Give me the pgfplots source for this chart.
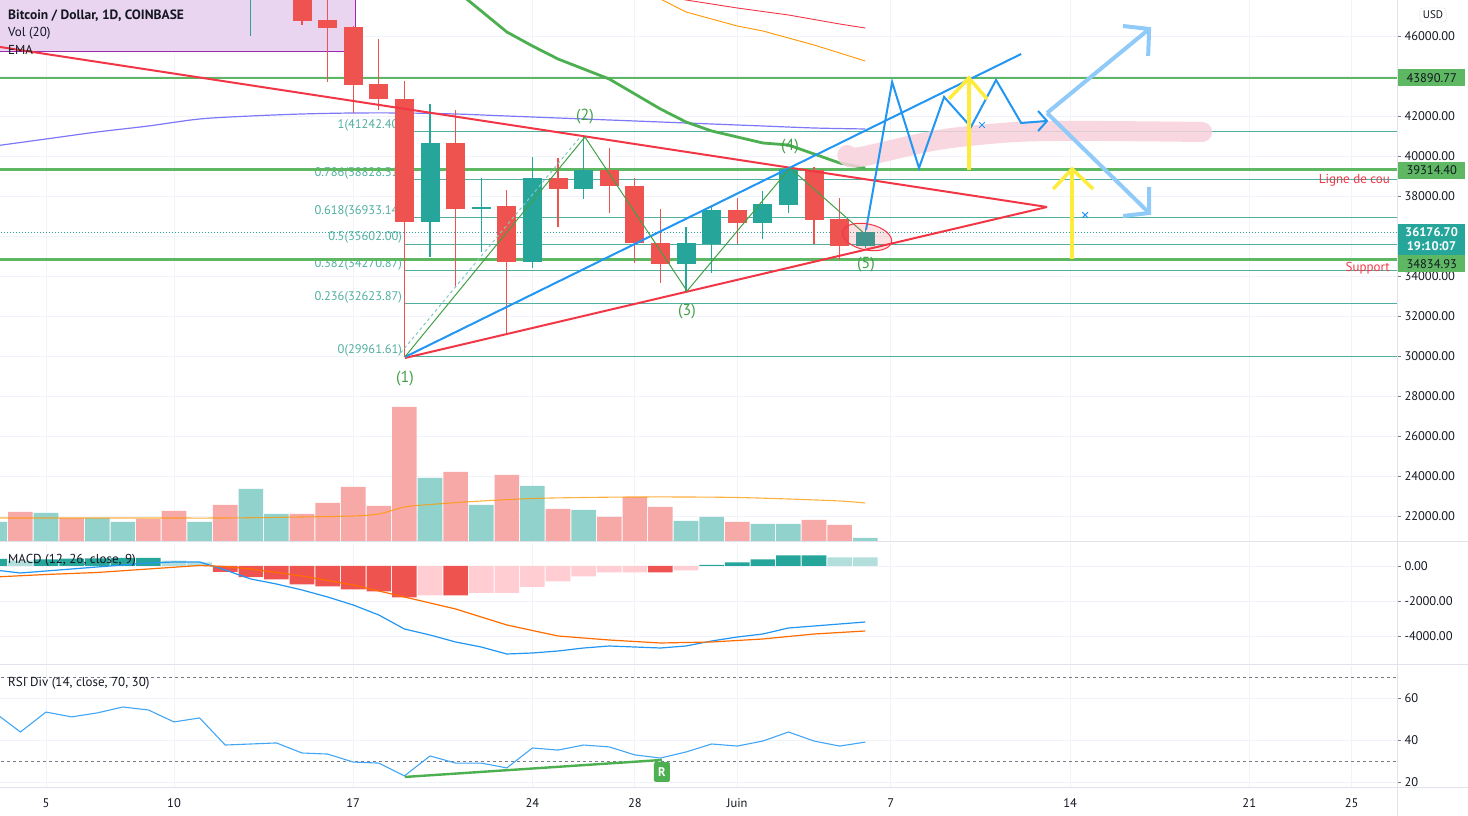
\documentclass[border=0pt]{standalone}
\usepackage{pgfplots}
\pgfplotsset{compat=1.18}
\usepackage{pgfplotstable}
\usepackage{fontspec}
\setmainfont{PT Sans}

\definecolor{cred}{RGB}{239,83,80}
\definecolor{cgreen}{RGB}{38,166,154}
\definecolor{volred}{RGB}{247,169,167}
\definecolor{volgreen}{RGB}{146,210,204}
\definecolor{hlgreen}{RGB}{94,183,98}
\definecolor{fibc}{RGB}{80,175,160}
\definecolor{purplec}{RGB}{125,120,250}
\definecolor{emag}{RGB}{76,175,80}
\definecolor{maorange}{RGB}{255,152,0}
\definecolor{sigorange}{RGB}{255,109,0}
\definecolor{tvblue}{RGB}{33,150,243}
\definecolor{lightblue}{RGB}{144,202,249}
\definecolor{tvyellow}{RGB}{255,235,59}
\definecolor{hlpink}{RGB}{248,208,220}
\definecolor{gridc}{RGB}{240,243,250}
\definecolor{sepc}{RGB}{224,227,235}
\definecolor{textc}{RGB}{19,23,34}
\definecolor{wavec}{RGB}{67,160,71}
\definecolor{boxpurple}{RGB}{234,213,240}
\definecolor{bpurple}{RGB}{156,39,176}
\definecolor{trred}{RGB}{242,54,69}
\definecolor{macdpink}{RGB}{255,205,210}
\definecolor{macdlt}{RGB}{178,223,219}
\definecolor{dashc}{RGB}{120,123,134}

\newcommand{\tvf}{\fontsize{12.5}{15}\selectfont}

\pgfplotstableread{
d o h l c
15 49900 50700 46550 46750
16 46800 49800 43700 46400
17 46450 46500 42150 43550
18 43600 45850 42300 42850
19 42850 43750 29960 36700
21 40650 42300 33450 37350
23 37500 38300 31150 34700
25 38900 39900 36450 38350
27 39300 40400 37150 38500
28 38500 38900 34650 35650
29 35650 37350 33650 34600
32 37300 37900 35600 36650
35 39300 39450 35600 36800
36 36850 37900 34800 35500
}\redc

\pgfplotstableread{
d o h l c
13 49500 51400 46000 49700
14 49700 51500 48800 49900
20 36700 42600 34950 40650
22 37350 38900 35200 37450
24 34700 39950 34400 38900
26 38350 40950 37850 39300
30 34600 36450 33250 35650
31 35600 37550 34150 37300
33 36650 38250 35850 37600
34 37550 39450 37150 39350
37 35500 36300 35400 36177
}\greenc

\pgfplotsset{tvpanel/.style={
  scale only axis, width=1397pt, anchor=south west,
  xmin=3.203, xmax=57.77,
  axis line style={draw=none},
  xtick={5,10,17,24,28,32,38,45,52,56},
  xticklabels={,,,,,,,,,},
  xmajorgrids, ymajorgrids,
  grid style={gridc, line width=0.8pt},
  ytick pos=right, yticklabel pos=right,
  tick align=outside, major tick length=4pt,
  y tick style={dashc, line width=0.6pt},
  x tick style={draw=none},
  scaled y ticks=false,
  yticklabel style={font=\tvf, text=textc},
  /pgf/number format/assume math mode=true,
  clip mode=individual,
}}

\begin{document}
\begin{tikzpicture}
\path[use as bounding box] (0pt,0pt) rectangle (1468pt,816pt);
\fill[white] (0pt,0pt) rectangle (1468pt,816pt);

% ---------- price panel ----------
\begin{axis}[tvpanel, at={(0pt,274pt)}, height=542pt,
  ymin=20700, ymax=47800, ytick={22000,24000,...,46000},
  yticklabel style={/pgf/number format/.cd, fixed, fixed zerofill, precision=2, 1000 sep={}}]

% drawn rectangle behind legend
\addplot[fill=boxpurple, draw=none] coordinates {(3.1,45200) (17.07,45200) (17.07,48500) (3.1,48500)} -- cycle;
\addplot[bpurple, line width=1pt] coordinates {(17.07,48500) (17.07,45200) (3.1,45200)};

% fib retracement
\addplot[fibc, line width=0.9pt] coordinates {(19.02,41242.40) (58,41242.40)};
\addplot[fibc, line width=0.9pt] coordinates {(19.02,38828.31) (58,38828.31)};
\addplot[fibc, line width=0.9pt] coordinates {(19.02,36933.14) (58,36933.14)};
\addplot[fibc, line width=0.9pt] coordinates {(19.02,35602.00) (58,35602.00)};
\addplot[fibc, line width=0.9pt] coordinates {(19.02,34270.87) (58,34270.87)};
\addplot[fibc, line width=0.9pt] coordinates {(19.02,32623.87) (58,32623.87)};
\addplot[fibc, line width=0.9pt] coordinates {(19.02,29961.61) (58,29961.61)};

\node[anchor=base east, font=\tvf, text=fibc, inner sep=0pt] at (axis cs:18.91,41242.40) [yshift=3pt] {1(41242.40)};
\node[anchor=base east, font=\tvf, text=fibc, inner sep=0pt] at (axis cs:18.91,38828.31) [yshift=3pt] {0.786(38828.31)};
\node[anchor=base east, font=\tvf, text=fibc, inner sep=0pt] at (axis cs:18.91,36933.14) [yshift=3pt] {0.618(36933.14)};
\node[anchor=base east, font=\tvf, text=fibc, inner sep=0pt] at (axis cs:18.91,35602.00) [yshift=3pt] {0.5(35602.00)};
\node[anchor=base east, font=\tvf, text=fibc, inner sep=0pt] at (axis cs:18.91,34270.87) [yshift=3pt] {0.382(34270.87)};
\node[anchor=base east, font=\tvf, text=fibc, inner sep=0pt] at (axis cs:18.91,32623.87) [yshift=3pt] {0.236(32623.87)};
\node[anchor=base east, font=\tvf, text=fibc, inner sep=0pt] at (axis cs:18.91,29961.61) [yshift=3pt] {0(29961.61)};

% horizontal levels
\addplot[hlgreen, line width=2.5pt] coordinates {(3,43890.77) (58,43890.77)};
\addplot[hlgreen, line width=2.5pt] coordinates {(3,39314.40) (58,39314.40)};
\addplot[hlgreen, line width=2.5pt] coordinates {(3,34834.93) (58,34834.93)};
\addplot[cgreen, dotted, line width=1pt] coordinates {(3,36176.70) (58,36176.70)};

% moving averages
\addplot[purplec, line width=1.2pt, smooth] coordinates {(3,40500) (5,40850) (7,41200) (9,41500) (11,41850) (13,42000) (15,42100) (17,42150) (19,42150) (21,42100) (23,42000) (25,41900) (27,41800) (29,41700) (31,41600) (33,41500) (35,41400) (37,41350)};
\addplot[trred, line width=0.9pt] coordinates {(29,48000) (30,47800) (32,47400) (34,47050) (36,46600) (37,46400)};
\addplot[maorange, line width=0.9pt] coordinates {(28,48200) (29,47850) (30,47200) (31,46850) (32,46500) (33,46250) (34,45900) (35,45550) (36,45150) (37,44750)};
\addplot[emag, line width=2.8pt] coordinates {(20,49350) (21,48300) (22,47250) (23,46200) (24,45500) (25,44850) (26,44350) (27,43850) (28,43100) (29,42350) (30,41700) (31,41250) (32,40950) (33,40650) (34,40550) (35,40100) (36,39650) (37,39400)};

% candles: wicks then bodies
\addplot[draw=none, mark=none, error bars/.cd, y dir=plus, y explicit, error mark=none, error bar style={draw=cred, line width=1.3pt}] table[x=d, y=l, y error expr=\thisrow{h}-\thisrow{l}] {\redc};
\addplot[draw=none, mark=none, error bars/.cd, y dir=plus, y explicit, error mark=none, error bar style={draw=cred, line width=19pt}] table[x=d, y=c, y error expr=\thisrow{o}-\thisrow{c}] {\redc};
\addplot[draw=none, mark=none, error bars/.cd, y dir=plus, y explicit, error mark=none, error bar style={draw=cgreen, line width=1.3pt}] table[x=d, y=l, y error expr=\thisrow{h}-\thisrow{l}] {\greenc};
\addplot[draw=none, mark=none, error bars/.cd, y dir=plus, y explicit, error mark=none, error bar style={draw=cgreen, line width=19pt}] table[x=d, y=o, y error expr=\thisrow{c}-\thisrow{o}] {\greenc};

% triangle and channel lines
\addplot[trred, line width=2pt] coordinates {(3.203,45450) (44.10,37450)};
\addplot[trred, line width=2pt] coordinates {(19.02,29900) (44.10,37450)};
\addplot[tvblue, line width=2pt] coordinates {(19.02,29950) (43.09,45100)};

% elliott waves
\addplot[fibc!70, dashed, line width=1pt] coordinates {(18.85,30150) (25.9,41000)};
\addplot[wavec, line width=1pt] coordinates {(19.02,29960) (26.05,40950) (30.04,33250) (34.06,39400) (36.9,36200)};

% highlighter
\addplot[hlpink, opacity=0.85, line width=20pt, line cap=round, smooth] coordinates {(36.3,40050) (36.8,39950) (39.84,40800) (42.89,41200) (46,41250) (50.16,41200)};

% projected path
\addplot[tvblue, line width=2pt] coordinates {(37.03,36300) (38.05,43700) (39.1,39400) (40.08,42950) (41.13,41450) (42.11,43800) (43.09,41650) (44.10,41750)};
\addplot[tvblue, line width=2pt] coordinates {(43.75,42250) (44.10,41750) (43.75,41250)};

\addplot[lightblue, line width=4pt] coordinates {(44.10,42150) (48.09,46350)};
\addplot[lightblue, line width=4pt] coordinates {(47.07,46500) (48.09,46350) (48.05,45000)};
\addplot[lightblue, line width=4pt] coordinates {(44.10,42150) (48.09,37150)};
\addplot[lightblue, line width=4pt] coordinates {(47.07,37000) (48.09,37150) (48.09,38450)};

\addplot[tvyellow, line width=3.5pt] coordinates {(41.05,39300) (41.05,43850)};
\addplot[tvyellow, line width=3.5pt] coordinates {(40.27,42850) (41.05,43900) (41.76,42850)};
\addplot[tvyellow, line width=3.5pt] coordinates {(45.08,34850) (45.08,39300)};
\addplot[tvyellow, line width=3.5pt] coordinates {(44.34,38350) (45.08,39350) (45.9,38350)};

\addplot[tvblue, only marks, mark=x, mark size=4pt, line width=1pt] coordinates {(41.56,41550) (45.59,37050)};

\draw[trred, line width=1pt, fill=trred, fill opacity=0.15, rotate around={-12:(axis cs:37.07,35950)}] (axis cs:37.07,35950) ellipse [x radius=25pt, y radius=13pt];

% labels
\node[font=\fontsize{16}{18}\selectfont, text=wavec] at (axis cs:19.02,28850) {(1)};
\node[font=\fontsize{16}{18}\selectfont, text=wavec] at (axis cs:26.05,41950) {(2)};
\node[font=\fontsize{16}{18}\selectfont, text=wavec] at (axis cs:30.04,32200) {(3)};
\node[font=\fontsize{16}{18}\selectfont, text=wavec] at (axis cs:34.06,40450) {(4)};
\node[font=\fontsize{16}{18}\selectfont, text=wavec] at (axis cs:37.03,34550) {(5)};
\node[anchor=east, font=\fontsize{13}{15}\selectfont, text=trred, inner sep=0pt] at (axis cs:57.5,38800) {Ligne de cou};
\node[anchor=east, font=\fontsize{13}{15}\selectfont, text=trred, inner sep=0pt] at (axis cs:57.5,34400) {Support};
\end{axis}

% ---------- volume overlay ----------
\begin{axis}[scale only axis, width=1397pt, height=542pt, anchor=south west, at={(0pt,274pt)},
  xmin=3.203, xmax=57.77, ymin=0, ymax=542, hide axis]
\addplot[ybar, bar width=24.6pt, bar shift=0pt, fill=volgreen, draw=none] coordinates {(3,20) (5,29) (7,24) (8,20) (11,20) (13,53) (14,28) (20,64) (22,37) (24,56) (26,32) (30,21) (31,25) (33,18) (34,18) (37,4)};
\addplot[ybar, bar width=24.6pt, bar shift=0pt, fill=volred, draw=none] coordinates {(4,30) (6,24) (9,23) (10,31) (12,37) (15,28) (16,39) (17,55) (18,36) (19,135) (21,70) (23,67) (25,33) (27,25) (28,45) (29,35) (32,20) (35,22) (36,17)};
\addplot[maorange, opacity=0.75, line width=1.1pt, smooth] coordinates {(3,24) (6,24) (9,24) (12,24) (15,25) (17,26) (18,28) (19,35) (20,37.5) (22,41) (24,43.5) (26,44.5) (28,45) (30,45) (32,44.5) (34,43) (36,41) (37,39)};
\end{axis}

% ---------- MACD panel ----------
\begin{axis}[tvpanel, at={(0pt,151pt)}, height=122pt,
  ymin=-5657, ymax=1314, ytick={-4000,-2000,0},
  yticklabel style={/pgf/number format/.cd, fixed, fixed zerofill, precision=2, 1000 sep={}}]
\addplot[ybar, bar width=24.6pt, bar shift=0pt, fill=cgreen, draw=none] coordinates {(3,400) (5,380) (6,420) (7,440) (8,460) (9,460) (31,57) (32,210) (33,381) (34,610) (35,610)};
\addplot[ybar, bar width=24.6pt, bar shift=0pt, fill=macdlt, draw=none] coordinates {(4,300) (10,300) (11,210) (36,495) (37,495)};
\addplot[ybar, bar width=24.6pt, bar shift=0pt, fill=cred, draw=none] coordinates {(12,-343) (13,-629) (14,-762) (15,-1048) (16,-1162) (17,-1333) (18,-1448) (19,-1790) (21,-1676) (29,-362)};
\addplot[ybar, bar width=24.6pt, bar shift=0pt, fill=macdpink, draw=none] coordinates {(20,-1676) (22,-1543) (23,-1543) (24,-1200) (25,-876) (26,-590) (27,-362) (28,-362) (30,-248)};
\addplot[tvblue, line width=1.2pt] coordinates {(3,-229) (4,-400) (5,-286) (6,-171) (7,-57) (8,57) (9,171) (10,229) (11,229) (12,-229) (13,-743) (14,-1029) (15,-1371) (16,-1771) (17,-2229) (18,-2800) (19,-3600) (20,-3943) (21,-4343) (22,-4629) (23,-5029) (24,-4971) (25,-4857) (26,-4686) (27,-4571) (28,-4629) (29,-4686) (30,-4571) (31,-4286) (32,-4057) (33,-3886) (34,-3543) (35,-3429) (36,-3314) (37,-3200)};
\addplot[sigorange, line width=1.2pt] coordinates {(3,-629) (5,-486) (7,-371) (9,-171) (11,29) (12,-29) (13,-171) (15,-571) (17,-1086) (19,-1771) (21,-2457) (23,-3371) (25,-4000) (27,-4229) (29,-4400) (31,-4343) (33,-4171) (35,-3886) (37,-3714)};
\end{axis}

% ---------- RSI panel ----------
\begin{axis}[tvpanel, at={(0pt,28pt)}, height=122pt,
  ymin=17.14, ymax=75.24, ytick={20,40,60},
  yticklabel style={/pgf/number format/.cd, fixed, precision=0},
  xticklabels={5,10,17,24,28,Juin,7,14,21,25},
  xticklabel style={font=\tvf, text=textc, yshift=-3pt}]
\addplot[dashc, dashed, line width=0.9pt] coordinates {(3,70) (58,70)};
\addplot[dashc, dashed, line width=0.9pt] coordinates {(3,30) (58,30)};
\addplot[tvblue!85, line width=1.1pt] coordinates {(3,53) (4,43.8) (5,53.3) (6,51) (7,52.9) (8,55.7) (9,54.3) (10,48.6) (11,50.5) (12,37.6) (13,38.1) (14,38.6) (15,33.8) (16,33.3) (17,29.5) (18,29) (19,22.9) (20,32.4) (21,29) (22,29) (23,26.7) (24,36.2) (25,35.2) (26,37.6) (27,36.7) (28,32.9) (29,31.4) (30,34.3) (31,38.1) (32,37.1) (33,39.5) (34,43.8) (35,39.5) (36,37.1) (37,39)};
\addplot[emag, line width=2.4pt] coordinates {(19.02,22.4) (29.06,30.5)};
\node[fill=emag, rounded corners=2pt, text=white, font=\bfseries\tvf, minimum width=16pt, minimum height=20pt, inner sep=0pt] at (axis cs:29.06,24.8) {R};
\end{axis}

% ---------- separators ----------
\draw[sepc, line width=1pt] (0pt,274pt) -- (1468pt,274pt);
\draw[sepc, line width=1pt] (0pt,151pt) -- (1468pt,151pt);
\draw[sepc, line width=1pt] (0pt,28pt) -- (1468pt,28pt);
\draw[sepc, line width=1pt] (1397pt,0pt) -- (1397pt,816pt);

% ---------- legends ----------
\node[anchor=west, font=\bfseries\fontsize{13.5}{16}\selectfont, text=textc, inner sep=0pt] at (8pt,800pt) {Bitcoin / Dollar, 1D, COINBASE};
\node[anchor=west, font=\fontsize{13}{15}\selectfont, text=textc, inner sep=0pt] at (8pt,783pt) {Vol (20)};
\node[anchor=west, font=\fontsize{13}{15}\selectfont, text=textc, inner sep=0pt] at (8pt,766pt) {EMA};
\node[anchor=west, font=\fontsize{13}{15}\selectfont, text=textc, inner sep=0pt] at (8pt,256pt) {MACD (12, 26, close, 9)};
\node[anchor=west, font=\fontsize{13}{15}\selectfont, text=textc, inner sep=0pt] at (8pt,133pt) {RSI Div (14, close, 70, 30)};

% ---------- price scale labels ----------
\node[anchor=west, fill=hlgreen, text=textc, font=\tvf, minimum width=67pt, minimum height=17pt, inner sep=0pt] at (1398pt,738pt) {43890.77};
\node[anchor=west, fill=hlgreen, text=textc, font=\tvf, minimum width=67pt, minimum height=17pt, inner sep=0pt] at (1398pt,645.5pt) {39314.40};
\node[anchor=west, fill=hlgreen, text=textc, font=\tvf, minimum width=67pt, minimum height=17pt, inner sep=0pt] at (1398pt,552pt) {34834.93};
\fill[cgreen] (1398pt,561pt) rectangle (1465pt,592pt);
\node[text=white, font=\bfseries\tvf, inner sep=0pt] at (1431.5pt,583.5pt) {36176.70};
\node[text=white, font=\bfseries\tvf, inner sep=0pt] at (1431.5pt,569.5pt) {19:10:07};
\node[draw=sepc, rounded corners=3pt, fill=white, text=textc, font=\fontsize{11}{13}\selectfont, inner sep=3pt] at (1433pt,801pt) {USD};
\end{tikzpicture}
\end{document}
